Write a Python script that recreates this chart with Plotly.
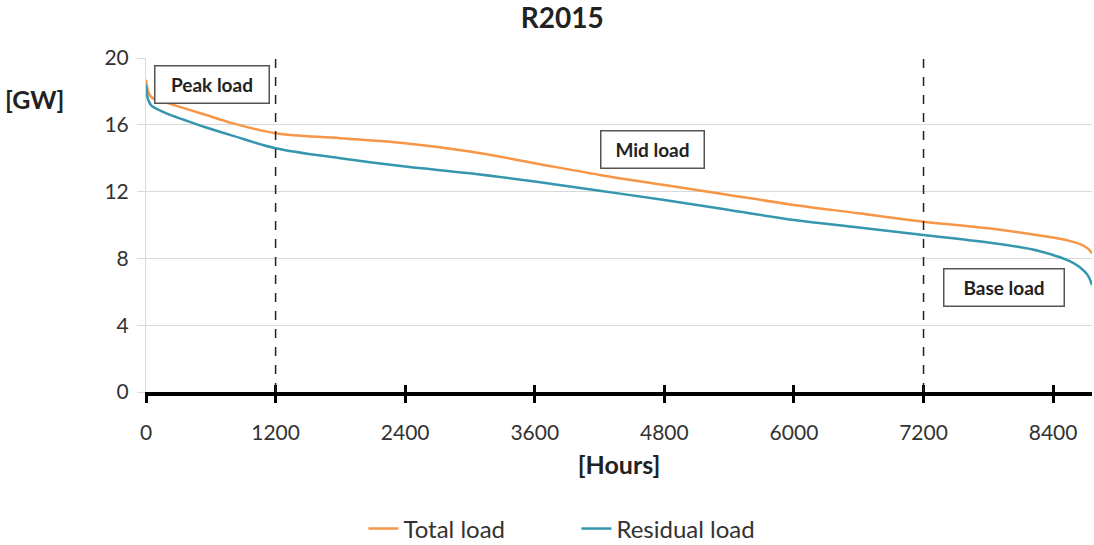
import plotly.graph_objects as go

hours = [0, 20, 50, 100, 200, 350, 550, 800, 1200, 1800, 2400, 3000, 3600, 4200, 4800,
         5400, 6000, 6600, 7200, 7800, 8200, 8400, 8550, 8650, 8720, 8760]
total_load = [18.7, 18.0, 17.65, 17.5, 17.3, 17.0, 16.6, 16.1, 15.5, 15.2, 14.9, 14.4,
              13.7, 13.0, 12.4, 11.8, 11.2, 10.7, 10.2, 9.8, 9.45, 9.25, 9.05, 8.85, 8.6, 8.3]
residual_load = [18.4, 17.5, 17.15, 16.95, 16.65, 16.3, 15.85, 15.35, 14.6, 14.0, 13.5, 13.1,
                 12.6, 12.05, 11.5, 10.9, 10.3, 9.85, 9.4, 8.95, 8.55, 8.2, 7.85, 7.45,
                 7.0, 6.4]

x_ticks = [0, 1200, 2400, 3600, 4800, 6000, 7200, 8400]
y_ticks = [0, 4, 8, 12, 16, 20]
zone_bounds = [1200, 7200]
zone_labels = ["Peak load", "Mid load", "Base load"]
zone_label_pos = [(612, 18.44), (4694, 14.55), (7941, 6.23)]
zone_label_w = [103, 92, 109]

FONT = "Lato, Open Sans, sans-serif"

fig = go.Figure()
fig.add_trace(go.Scatter(x=hours, y=total_load, mode="lines", name="Total load",
                         line=dict(color="#F79646", width=2.5, shape="spline")))
fig.add_trace(go.Scatter(x=hours, y=residual_load, mode="lines", name="Residual load",
                         line=dict(color="#3596AD", width=2.5, shape="spline")))
# overlay trace for inner half of crossing ticks
fig.add_trace(go.Scatter(x=[None], y=[None], xaxis="x2", showlegend=False))

for xb in zone_bounds:
    fig.add_vline(x=xb, line=dict(color="#222", width=1.5, dash="dash"))

for lab, (lx, ly), w in zip(zone_labels, zone_label_pos, zone_label_w):
    fig.add_annotation(x=lx, y=ly, text="<b>" + lab + "</b>", showarrow=False,
                       width=w, height=26,
                       font=dict(family=FONT, size=19, color="#222"),
                       bordercolor="#555", borderwidth=1.5, borderpad=5,
                       bgcolor="white")

fig.update_layout(
    width=1094, height=545,
    margin=dict(l=146, r=2, t=58, b=153, autoexpand=False),
    paper_bgcolor="white", plot_bgcolor="white",
    font=dict(family=FONT, size=21, color="#333"),
    title=dict(text="<b>R2015</b>", x=0.514, xanchor="center", y=0.967, yanchor="middle",
               font=dict(family=FONT, size=28, color="#222")),
    xaxis=dict(range=[0, 8760], tickvals=x_ticks, showgrid=False, zeroline=False,
               showline=True, linecolor="black", linewidth=4,
               ticks="outside", ticklen=7, tickwidth=3, tickcolor="black",
               ticklabelstandoff=12,
               title=dict(text="<b>[Hours]</b>", font=dict(size=25, color="#222"), standoff=14)),
    xaxis2=dict(range=[0, 8760], overlaying="x", tickvals=x_ticks, showgrid=False,
                zeroline=False, showticklabels=False, ticks="inside", ticklen=7,
                tickwidth=3, tickcolor="black", side="bottom"),
    yaxis=dict(range=[0, 20], tickvals=y_ticks, showgrid=True, gridcolor="#D9D9D9",
               gridwidth=1, zeroline=False, showline=True, linecolor="#D9D9D9",
               ticks="outside", ticklen=8, tickcolor="#D9D9D9", ticklabelstandoff=4),
    legend=dict(orientation="h", x=0.455, xanchor="center", y=-0.41, yanchor="middle",
                itemwidth=30, entrywidth=168, entrywidthmode="pixels",
                font=dict(family=FONT, size=24, color="#333")),
)
fig.add_annotation(xref="paper", yref="paper", x=-0.085, y=0.877, text="<b>[GW]</b>",
                   showarrow=False, xanchor="right", yanchor="middle",
                   font=dict(family=FONT, size=25, color="#222"))

fig.write_html("out.html", post_script="document.body.style.margin='0';",
               config={"displayModeBar": False})
